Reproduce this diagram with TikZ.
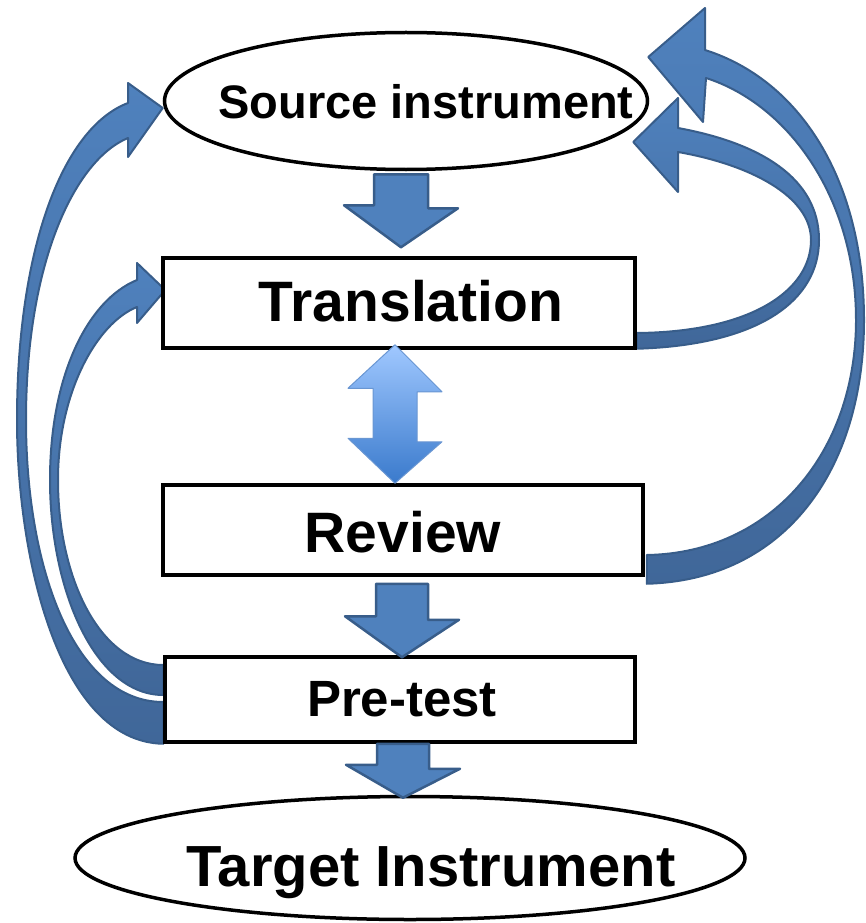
\documentclass[tikz,border=0pt]{standalone}
\usepackage{fontspec}
\setmainfont{Liberation Sans}
\usetikzlibrary{positioning,calc,shapes.geometric,backgrounds}
\definecolor{blockblue}{RGB}{79,129,189}
\definecolor{blockedge}{RGB}{56,93,138}
\definecolor{backblue}{RGB}{64,103,153}
\definecolor{paleblue}{RGB}{160,200,255}
\definecolor{deepblue}{RGB}{58,122,204}
\definecolor{softedge}{RGB}{105,150,210}

\begin{document}
\begin{tikzpicture}[x=1pt,y=-1pt,
  box/.style={rectangle,draw=black,line width=3.5pt,fill=white},
  oval/.style={ellipse,draw=black,line width=3.5pt,fill=white},
  lbl/.style={font=\bfseries\fontsize{#1}{#1}\selectfont,anchor=base,inner sep=0pt},
  blk/.style={fill=blockblue,draw=blockedge,line width=2.5pt,line join=round},
  dbl/.style={top color=paleblue,bottom color=deepblue,draw=softedge,line width=1pt,line join=round},
  curv/.style={top color=blockblue,bottom color=backblue,draw=blockedge,line width=2pt,line join=round}
]
\useasboundingbox (0,0) rectangle (865,923);

% steps
\node[oval,minimum width=483pt,minimum height=137pt] (src) at (406,101) {};
\node[box,minimum width=472pt,minimum height=90pt] (tr) at (399,303) {};
\node[box,minimum width=480pt,minimum height=90pt] (rev) at (403,530) {};
\node[box,minimum width=470pt,minimum height=85pt] (pre) at (400,699.5) {};
\node[oval,minimum width=670pt,minimum height=123pt] (tgt) at (410,858) {};

\node[lbl=47] (srctxt) at (426,119) {Source instrument};
\node[lbl=57] (trtxt) at (411,321) {Translation};
\node[lbl=57] (revtxt) at (403,552) {Review};
\node[lbl=51] (pretxt) at (402,716) {Pre-test};
\node[lbl=58] (tgttxt) at (431,886) {Target Instrument};

\begin{scope}[on background layer]
% loops back on the left
\draw[curv] (pre.south west) .. controls (60,742) and (17,560) .. (17,420)
  .. controls (17,250) and (62,128) .. (128,103) -- (128,83) -- ($(src.west)+(0,7)$)
  -- (128,157) -- (128,138) .. controls (75,160) and (26,262) .. (26,420)
  .. controls (26,570) and (75,702) .. ($(pre.west)+(0,2.5)$) -- cycle;
\draw[curv] ($(pre.west)+(0,-4.5)$) .. controls (95,695) and (50,590) .. (50,480)
  .. controls (50,375) and (88,300) .. (137,280) -- (137,263) -- ($(tr.west)+(4,-13)$)
  -- (137,323) -- (137,307) .. controls (97,323) and (58,392) .. (58,480)
  .. controls (58,578) and (100,665) .. ($(pre.west)+(0,-34.5)$) -- cycle;

% loops back on the right
\draw[curv] ($(rev.south east)+(2,7)$) .. controls (785,580) and (864,470) .. (864,320)
  .. controls (864,180) and (800,80) .. (705,50) -- (705,8) -- ($(src.east)+(-1,-44)$)
  -- (703,122) -- (706,78) .. controls (790,105) and (856,200) .. (856,320)
  .. controls (856,452) and (772,553) .. ($(rev.east)+(2,25)$) -- cycle;
\draw[curv] ($(tr.south east)+(0,-1)$) .. controls (760,345) and (819,300) .. (819,240)
  .. controls (819,178) and (760,143) .. (678,128) -- (678,98) -- ($(src.east)+(-16,41)$)
  -- (678,192) -- (678,152) .. controls (752,165) and (811,197) .. (811,240)
  .. controls (811,290) and (752,332) .. ($(tr.east)+(0,30)$) -- cycle;
\end{scope}

% block arrows down the middle
\draw[blk] ($(src.south)+(-5,3)$) ++(-27,0) -- ++(54,0) -- ++(0,34) -- ++(30,0)
  -- ($(tr.north)+(2,-9)$) -- ++(-57,-42) -- ++(30,0) -- cycle;
\draw[dbl] ($(tr.south)+(-4,-5)$) -- ++(47,47) -- ++(-25,0) -- ++(0,50) -- ++(25,0)
  -- ($(rev.north)+(-8,0)$) -- ++(-47,-45) -- ++(25,0) -- ++(0,-50) -- ++(-25,0) -- cycle;
\draw[blk] ($(rev.south)+(-1,7)$) ++(-26,0) -- ++(52,0) -- ++(0,36) -- ++(31,0)
  -- ($(pre.north)+(2,2)$) -- ++(-57,-41) -- ++(31,0) -- cycle;
\draw[blk] ($(pre.south)+(3,0)$) ++(-26,0) -- ++(52,0) -- ++(0,25) -- ++(31,0)
  -- ($(tgt.north)+(-7,3)$) -- ++(-57,-33) -- ++(31,0) -- cycle;
\end{tikzpicture}
\end{document}
